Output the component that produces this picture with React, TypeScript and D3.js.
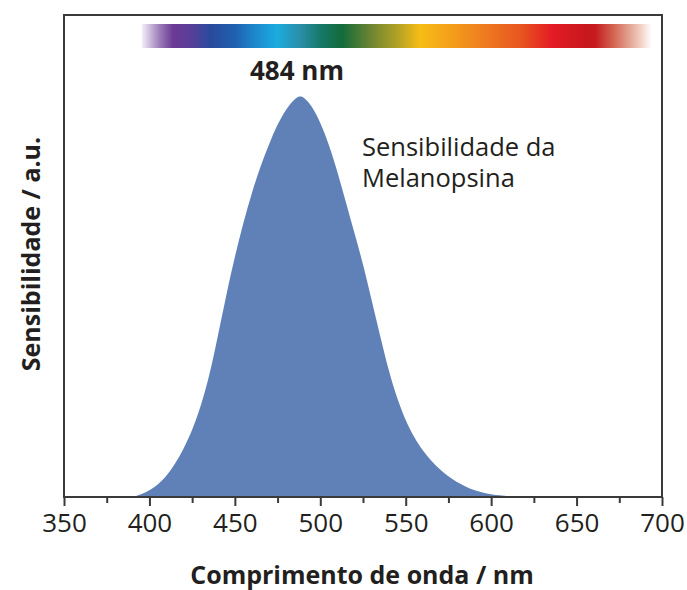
import React, { useEffect, useRef } from 'react';
import * as d3 from 'd3';

// melanopsin sensitivity curve
const wavelengths = [
  390, 395, 400, 405, 410, 415, 420, 425, 430, 435, 440, 445, 450, 455, 460, 465, 470, 475, 480, 485,
  488, 490, 495, 500, 505, 510, 515, 520, 525, 530, 535, 540, 545, 550, 555, 560, 565, 570, 575, 580,
  585, 590, 595, 600, 605, 610, 620,
];
const sensitivity = [
  0, 0.006, 0.016, 0.031, 0.052, 0.082, 0.12, 0.165, 0.225, 0.3, 0.4, 0.505, 0.6, 0.685, 0.76, 0.825, 0.88, 0.93, 0.968, 0.993,
  1.0, 0.998, 0.977, 0.935, 0.88, 0.812, 0.735, 0.658, 0.582, 0.492, 0.402, 0.315, 0.245, 0.19, 0.148, 0.115, 0.09, 0.069, 0.051, 0.037,
  0.026, 0.017, 0.011, 0.007, 0.004, 0.002, 0,
];

const majorTicks = [350, 400, 450, 500, 550, 600, 650, 700];
const minorTicks = [375, 425, 475, 525, 575, 625, 675];

// visible spectrum strip
const spectrumNm = [
  395.6, 406.2, 413.8, 423.7, 435.4, 450, 461.8, 474.6, 488.1, 499.8, 512.7, 529, 546.6, 558.3,
  575.9, 593.4, 616.8, 636.1, 654.9, 660.7, 672.4, 684.1, 694,
];
const spectrumColors = [
  '#f4eef8', '#9a7ab8', '#6b3a94', '#5a3e98', '#2a4a9c', '#2060b0', '#1c88cc', '#1bacdf', '#2a8fa8', '#167a6a',
  '#136b3a', '#6a8432', '#b8a424', '#f7bc15', '#f4a01a', '#ef8020', '#e8561f', '#e31b23', '#c8181e', '#c41a1e',
  '#d46a55', '#eab8a8', '#ffffff',
];

const peakLabel = '484 nm';
const curveLabel = ['Sensibilidade da', 'Melanopsina'];
const xTitle = 'Comprimento de onda / nm';
const yTitle = 'Sensibilidade / a.u.';

const App: React.FC = () => {
  const ref = useRef<SVGSVGElement>(null);

  useEffect(() => {
    if (!ref.current) return;
    const svg = d3.select(ref.current);
    svg.selectAll('*').remove();

    const left = 64, right = 662, top = 15, bottom = 497;
    const font = "'Open Sans', sans-serif";

    const x = d3.scaleLinear().domain([350, 700]).range([left, right]);
    const y = d3.scaleLinear().domain([0, 1]).range([bottom, 96]);

    const data = wavelengths.map((w, i) => ({ w, v: sensitivity[i] }));

    // spectrum gradient
    const defs = svg.append('defs');
    const grad = defs.append('linearGradient')
      .attr('id', 'spectrum')
      .attr('gradientUnits', 'userSpaceOnUse')
      .attr('x1', x(spectrumNm[0]))
      .attr('x2', x(spectrumNm[spectrumNm.length - 1]))
      .attr('y1', 0).attr('y2', 0);
    const span = spectrumNm[spectrumNm.length - 1] - spectrumNm[0];
    spectrumNm.forEach((nm, i) => {
      grad.append('stop')
        .attr('offset', (nm - spectrumNm[0]) / span)
        .attr('stop-color', spectrumColors[i]);
    });

    svg.append('rect')
      .attr('x', x(spectrumNm[0]))
      .attr('y', 24)
      .attr('width', x(spectrumNm[spectrumNm.length - 1]) - x(spectrumNm[0]))
      .attr('height', 24)
      .attr('fill', 'url(#spectrum)');

    // sensitivity area
    const area = d3.area<{ w: number; v: number }>()
      .x(d => x(d.w))
      .y0(y(0))
      .y1(d => y(d.v))
      .curve(d3.curveBasis);

    svg.append('path')
      .datum(data)
      .attr('d', area)
      .attr('fill', '#6080b8');

    // frame
    svg.append('rect')
      .attr('x', left)
      .attr('y', top)
      .attr('width', right - left)
      .attr('height', bottom - top)
      .attr('fill', 'none')
      .attr('stroke', '#3a3a3a')
      .attr('stroke-width', 2);

    // x axis
    const axis = svg.append('g')
      .attr('transform', `translate(0,${bottom})`)
      .call(d3.axisBottom(x).tickValues(majorTicks).tickSize(9).tickSizeOuter(0).tickFormat(d3.format('d')));
    axis.select('.domain').remove();
    axis.selectAll('line').attr('stroke', '#3a3a3a').attr('stroke-width', 2);
    axis.selectAll('text')
      .attr('y', 17)
      .attr('fill', '#231f20')
      .style('font-family', font)
      .style('font-size', '26px');

    const minor = svg.append('g')
      .attr('transform', `translate(0,${bottom})`)
      .call(d3.axisBottom(x).tickValues(minorTicks).tickSize(6).tickFormat(() => ''));
    minor.select('.domain').remove();
    minor.selectAll('line').attr('stroke', '#3a3a3a').attr('stroke-width', 2);

    // titles
    svg.append('text')
      .attr('x', 362)
      .attr('y', 584)
      .attr('text-anchor', 'middle')
      .attr('fill', '#231f20')
      .style('font-family', font)
      .style('font-weight', 'bold')
      .style('font-size', '25px')
      .text(xTitle);

    svg.append('text')
      .attr('transform', `translate(40,254) rotate(-90)`)
      .attr('text-anchor', 'middle')
      .attr('fill', '#231f20')
      .style('font-family', font)
      .style('font-weight', 'bold')
      .style('font-size', '25px')
      .text(yTitle);

    svg.append('text')
      .attr('x', 297)
      .attr('y', 80)
      .attr('text-anchor', 'middle')
      .attr('fill', '#231f20')
      .style('font-family', font)
      .style('font-weight', 'bold')
      .style('font-size', '26px')
      .text(peakLabel);

    curveLabel.forEach((line, i) => {
      svg.append('text')
        .attr('x', 362)
        .attr('y', 156 + i * 31)
        .attr('fill', '#231f20')
        .style('font-family', font)
        .style('font-size', '25.5px')
        .text(line);
    });
  }, []);

  return (
    <svg
      ref={ref}
      width={687}
      height={590}
      style={{ position: 'absolute', left: 0, top: 0, background: '#fff' }}
    />
  );
};

export default App;
